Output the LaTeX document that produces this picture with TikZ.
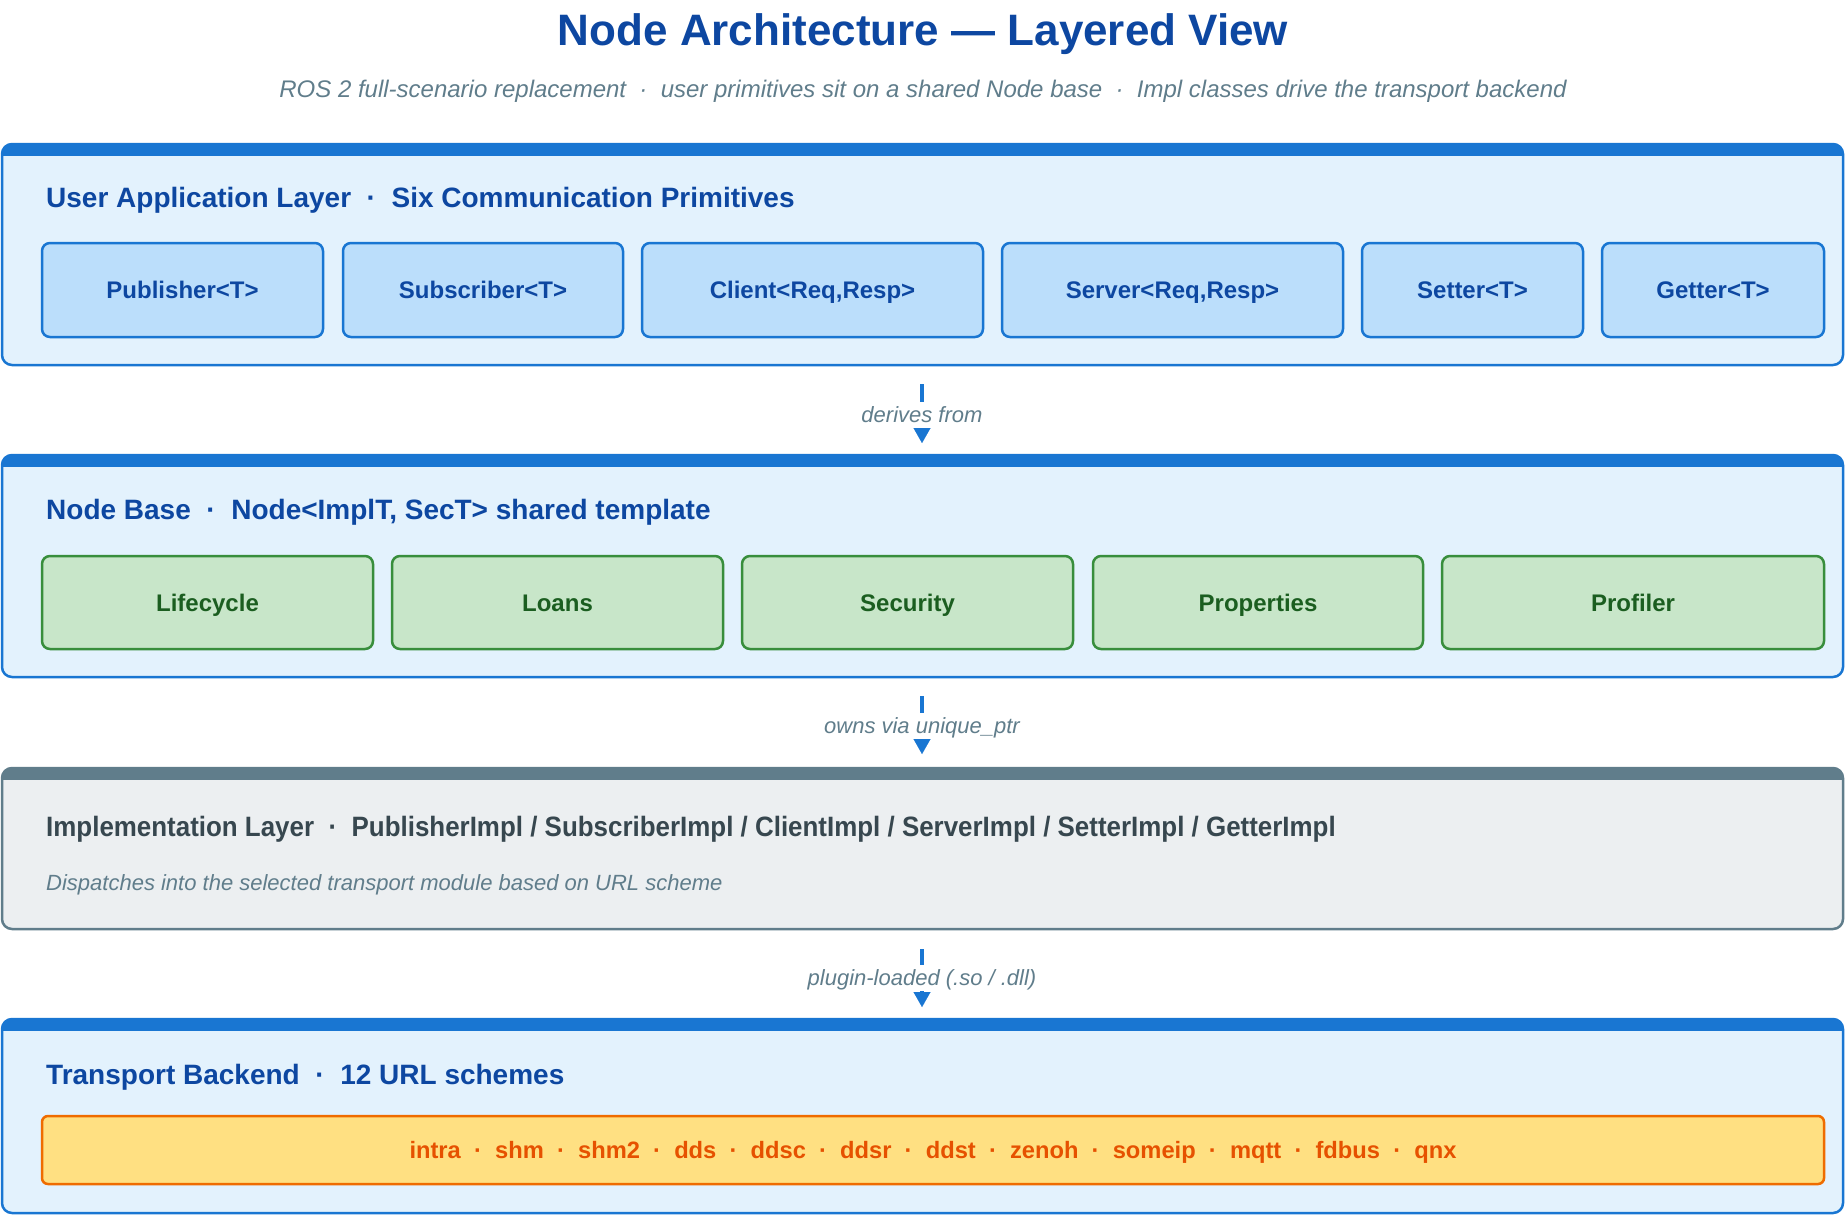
\documentclass[tikz,border=0pt]{standalone}
\usepackage{fontspec}
\setmainfont{Liberation Sans}
\usetikzlibrary{arrows.meta}
\definecolor{titleblue}{HTML}{0D47A1}
\definecolor{subgray}{HTML}{607D8B}
\definecolor{layerfill}{HTML}{E3F2FD}
\definecolor{layerdraw}{HTML}{1976D2}
\definecolor{boxfill}{HTML}{BBDEFB}
\definecolor{greenfill}{HTML}{C8E6C9}
\definecolor{greendraw}{HTML}{388E3C}
\definecolor{greentext}{HTML}{1B5E20}
\definecolor{grayfill}{HTML}{ECEFF1}
\definecolor{graydraw}{HTML}{607D8B}
\definecolor{graytext}{HTML}{37474F}
\definecolor{orangefill}{HTML}{FFE082}
\definecolor{orangedraw}{HTML}{EF6C00}
\definecolor{orangetext}{HTML}{E65100}
\newcommand{\dotsep}{\hspace{0.556em}·\hspace{0.556em}}
\begin{document}
\begin{tikzpicture}[x=1pt,y=-1pt,
  layerbox/.style={draw=#1, line width=2.5pt, rounded corners=10pt, minimum width=1841pt, inner sep=0pt, outer sep=0pt},
  hdr/.style={anchor=base west, inner sep=0pt, font=\bfseries\fontsize{28}{32}\selectfont},
  prim/.style={draw=layerdraw, fill=boxfill, line width=2.5pt, rounded corners=8pt, text=titleblue,
    font=\bfseries\fontsize{24}{28}\selectfont, minimum height=94pt, inner sep=0pt, outer sep=0pt,
    text height=17.2pt, text depth=0pt},
  feat/.style={draw=greendraw, fill=greenfill, line width=2.5pt, rounded corners=8pt, text=greentext,
    font=\bfseries\fontsize{24}{28}\selectfont, minimum height=93pt, inner sep=0pt, outer sep=0pt,
    text height=17.2pt, text depth=0pt},
  conn/.style={draw=layerdraw, line width=3.5pt, -{Triangle[width=17pt,length=15pt,line width=0.01pt]}},
  clabel/.style={fill=white, text=subgray, font=\itshape\fontsize{22}{26}\selectfont, inner xsep=3pt, inner ysep=0pt,
    minimum height=26pt, text height=15.8pt, text depth=0pt}
]
\useasboundingbox (0,0) rectangle (1846,1216);

% title
\node[anchor=base, inner sep=0pt, text=titleblue, font=\bfseries\fontsize{44}{50}\selectfont] (title) at (923,45) {Node Architecture — Layered View};
\node[anchor=base, inner sep=0pt, text=subgray, font=\itshape\fontsize{24}{28}\selectfont] (subtitle) at (923,97)
  {ROS 2 full-scenario replacement\dotsep user primitives sit on a shared Node base\dotsep Impl classes drive the transport backend};

% ---------- Layer 1
\node[layerbox=layerdraw, fill=layerfill, minimum height=221pt] (L1) at (922.5,254.5) {};
\begin{scope}
  \clip[rounded corners=10pt] (L1.north west) rectangle (L1.south east);
  \fill[layerdraw] ([yshift=2pt]L1.north west) rectangle ([yshift=-12pt]L1.north east);
\end{scope}
\node[hdr, text=titleblue] (H1) at (46,207.8) {User Application Layer\dotsep Six Communication Primitives};
\node[prim, minimum width=281pt] (pub) at (182.5,290) {Publisher<T>};
\node[prim, minimum width=280pt] (sub) at (483,290) {Subscriber<T>};
\node[prim, minimum width=341pt] (cli) at (812.5,290) {Client<Req,Resp>};
\node[prim, minimum width=341pt] (srv) at (1172.5,290) {Server<Req,Resp>};
\node[prim, minimum width=221pt] (set) at (1472.5,290) {Setter<T>};
\node[prim, minimum width=222pt] (get) at (1713,290) {Getter<T>};

% ---------- Layer 2
\node[layerbox=layerdraw, fill=layerfill, minimum height=222pt] (L2) at (922.5,566) {};
\begin{scope}
  \clip[rounded corners=10pt] (L2.north west) rectangle (L2.south east);
  \fill[layerdraw] ([yshift=2pt]L2.north west) rectangle ([yshift=-12pt]L2.north east);
\end{scope}
\node[hdr, text=titleblue] (H2) at (46,519.8) {Node Base\dotsep Node<ImplT, SecT> shared template};
\node[feat, minimum width=331pt] (life) at (207.5,602.5) {Lifecycle};
\node[feat, minimum width=331pt] (loan) at (557.5,602.5) {Loans};
\node[feat, minimum width=331pt] (sec) at (907.5,602.5) {Security};
\node[feat, minimum width=330pt] (prop) at (1258,602.5) {Properties};
\node[feat, minimum width=382pt] (prof) at (1633,602.5) {Profiler};

% ---------- Layer 3
\node[layerbox=graydraw, fill=grayfill, minimum height=161pt] (L3) at (922.5,848.5) {};
\begin{scope}
  \clip[rounded corners=10pt] (L3.north west) rectangle (L3.south east);
  \fill[graydraw] ([yshift=2pt]L3.north west) rectangle ([yshift=-12pt]L3.north east);
\end{scope}
\node[hdr, text=graytext] (H3) at (46,836.8) {\scalebox{0.926}[1]{Implementation Layer\dotsep PublisherImpl / SubscriberImpl / ClientImpl / ServerImpl / SetterImpl / GetterImpl}};
\node[anchor=base west, inner sep=0pt, text=subgray, font=\itshape\fontsize{22}{26}\selectfont] (H3b) at (46,890)
  {Dispatches into the selected transport module based on URL scheme};

% ---------- Layer 4
\node[layerbox=layerdraw, fill=layerfill, minimum height=194pt] (L4) at (922.5,1116) {};
\begin{scope}
  \clip[rounded corners=10pt] (L4.north west) rectangle (L4.south east);
  \fill[layerdraw] ([yshift=2pt]L4.north west) rectangle ([yshift=-12pt]L4.north east);
\end{scope}
\node[hdr, text=titleblue] (H4) at (46,1084.8) {Transport Backend\dotsep 12 URL schemes};
\node[draw=orangedraw, fill=orangefill, line width=2.5pt, rounded corners=6pt, text=orangetext,
  font=\bfseries\fontsize{23.7}{28}\selectfont, minimum width=1782pt, minimum height=68pt, inner sep=0pt,
  text height=17pt, text depth=0pt] (urls) at (933,1150)
  {intra\dotsep shm\dotsep shm2\dotsep dds\dotsep ddsc\dotsep ddsr\dotsep ddst\dotsep zenoh\dotsep someip\dotsep mqtt\dotsep fdbus\dotsep qnx};

% ---------- connectors
\coordinate (a1s) at (922,384);  \coordinate (a1e) at (922,443);
\coordinate (a2s) at (922,696);  \coordinate (a2e) at (922,754);
\coordinate (a3s) at (922,949);  \coordinate (a3e) at (922,1007);
\draw[conn] (a1s) -- (a1e);
\draw[conn] (a2s) -- (a2e);
\draw[conn] (a3s) -- (a3e);
\node[clabel] (c1) at (922,415) {derives from};
\node[clabel] (c2) at (922,726) {owns via unique\_ptr};
\node[clabel] (c3) at (922,978) {plugin-loaded (.so / .dll)};
\end{tikzpicture}
\end{document}
